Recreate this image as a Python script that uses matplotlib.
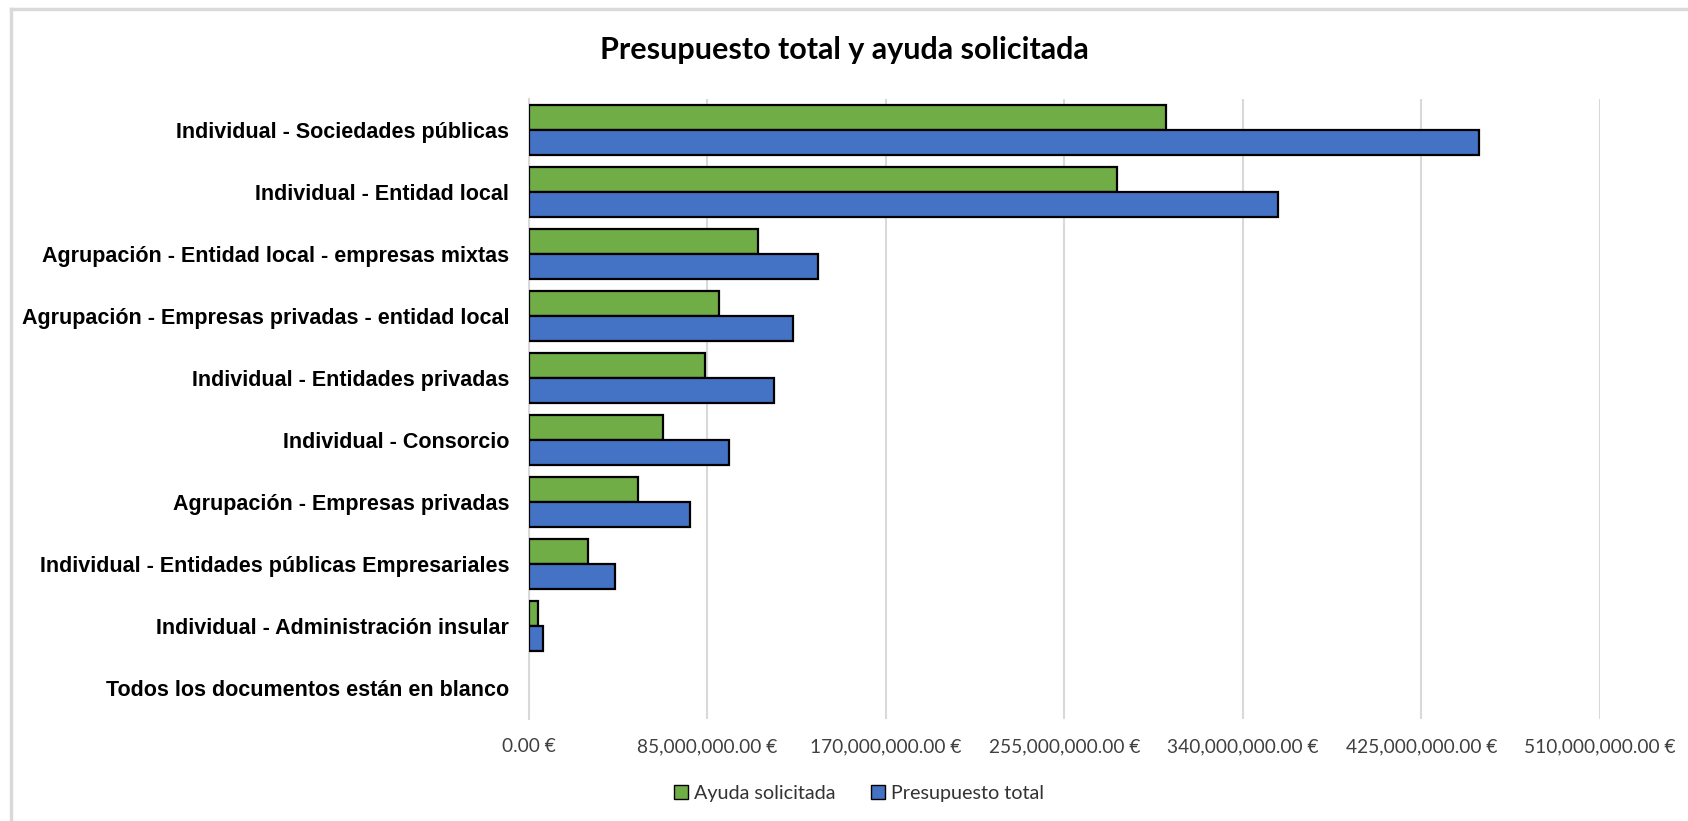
import matplotlib.pyplot as plt
from matplotlib.ticker import FuncFormatter
from matplotlib.lines import Line2D
from matplotlib.patches import Patch

# categories, top to bottom as in the chart
categorias = [
    "Individual - Sociedades públicas",
    "Individual - Entidad local",
    "Agrupación - Entidad local - empresas mixtas",
    "Agrupación - Empresas privadas - entidad local",
    "Individual - Entidades privadas",
    "Individual - Consorcio",
    "Agrupación - Empresas privadas",
    "Individual - Entidades públicas Empresariales",
    "Individual - Administración insular",
    "Todos los documentos están en blanco",
]
ayuda_solicitada = [303.3e6, 280.1e6, 109.1e6, 90.6e6, 84.0e6, 64.0e6, 52.2e6, 28.2e6, 4.6e6, 0]
presupuesto_total = [452.6e6, 356.9e6, 137.7e6, 126.0e6, 116.7e6, 95.2e6, 76.8e6, 41.0e6, 6.7e6, 0]
xticks = [0, 85e6, 170e6, 255e6, 340e6, 425e6, 510e6]

verde = "#70AD47"
azul = "#4472C4"

fig = plt.figure(figsize=(16.88, 8.21), dpi=100)
ax = fig.add_axes([0.3132, 0.1242, 0.6346, 0.755])

pos = list(range(len(categorias)))
h = 0.4
ax.barh([p - h / 2 for p in pos], ayuda_solicitada, height=h, color=verde,
        edgecolor="black", linewidth=[1.6 if v > 0 else 0 for v in ayuda_solicitada], zorder=3)
ax.barh([p + h / 2 for p in pos], presupuesto_total, height=h, color=azul,
        edgecolor="black", linewidth=[1.6 if v > 0 else 0 for v in presupuesto_total], zorder=3)

ax.set_ylim(len(categorias) - 0.5, -0.5)
ax.set_xlim(0, 510e6)
ax.set_yticks(pos)
ax.set_yticklabels(categorias, fontsize=15.5, fontweight="bold", family="Liberation Sans")
ax.set_xticks(xticks)
ax.xaxis.set_major_formatter(FuncFormatter(lambda v, p: f"{v:,.2f} €"))
for lab in ax.get_xticklabels():
    lab.set_family("Lato")
    lab.set_fontsize(13.8)
    lab.set_color("#404040")

ax.tick_params(axis="both", length=0)
ax.tick_params(axis="y", pad=14)
ax.tick_params(axis="x", pad=14)
ax.grid(axis="x", color="#D9D9D9", linewidth=1.5, zorder=0)
for s in ["top", "right", "bottom"]:
    ax.spines[s].set_visible(False)
ax.spines["left"].set_color("#D9D9D9")
ax.spines["left"].set_linewidth(1.5)

fig.text(0.5, 0.939, "Presupuesto total y ayuda solicitada", ha="center", va="center",
         fontsize=22, fontweight="bold", family="Lato")

handles = [Patch(facecolor=verde, edgecolor="black", label="Ayuda solicitada"),
           Patch(facecolor=azul, edgecolor="black", label="Presupuesto total")]
fig.legend(handles=handles, loc="center", bbox_to_anchor=(0.509, 0.034), ncol=2, frameon=False,
           prop={"family": "Lato", "size": 14.2}, handlelength=0.7, handleheight=0.7,
           handletextpad=0.3, columnspacing=1.8, labelcolor="#333333")

# chart area border (top and left visible)
fig.add_artist(Line2D([0.0065, 1], [0.989, 0.989], transform=fig.transFigure, color="#D9D9D9", linewidth=2.5))
fig.add_artist(Line2D([0.0065, 0.0065], [0, 0.989], transform=fig.transFigure, color="#D9D9D9", linewidth=2.5))

fig.savefig("out.png", dpi=100)
